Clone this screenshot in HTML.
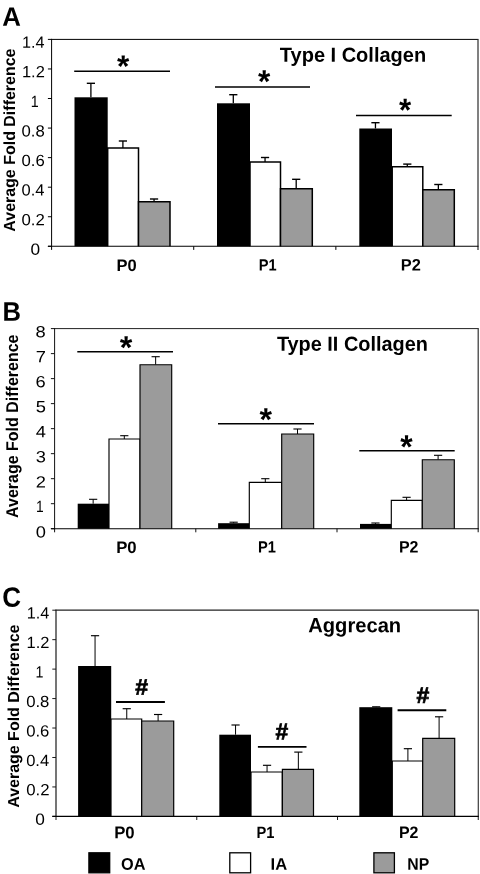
<!DOCTYPE html>
<html lang="en"><head><meta charset="utf-8"><title>Figure</title>
<style>
html,body{margin:0;padding:0;background:#fff;}
svg{display:block;}
text{font-family:"Liberation Sans",Arial,Helvetica,sans-serif;fill:#000;}
.b{font-weight:bold;}
</style></head><body>
<svg width="480" height="874" viewBox="0 0 480 874">
<rect width="480" height="874" fill="#fff"/>
<!-- panel A -->
<text class="b" transform="translate(2.25,25.7) rotate(0.03) scale(0.9683,1)" font-size="26.67">A</text>
<line x1="51.1" y1="39.4" x2="478.5" y2="39.4" stroke="#000" stroke-width="1"/>
<line x1="478" y1="39.4" x2="478" y2="249.9" stroke="#3c3c3c" stroke-width="1.3"/>
<line x1="47.9" y1="246.3" x2="51.6" y2="246.3" stroke="#000" stroke-width="1"/>
<text transform="translate(30.61,254.7) rotate(0.03) scale(1.0656,1)" font-size="16.2">0</text>
<line x1="47.9" y1="216.74" x2="51.6" y2="216.74" stroke="#000" stroke-width="1"/>
<text transform="translate(21.53,225.14) rotate(0.03) scale(1.0351,1)" font-size="16.2">0.2</text>
<line x1="47.9" y1="187.19" x2="51.6" y2="187.19" stroke="#000" stroke-width="1"/>
<text transform="translate(21.54,195.59) rotate(0.03) scale(1.0195,1)" font-size="16.2">0.4</text>
<line x1="47.9" y1="157.63" x2="51.6" y2="157.63" stroke="#000" stroke-width="1"/>
<text transform="translate(21.53,166.03) rotate(0.03) scale(1.0312,1)" font-size="16.2">0.6</text>
<line x1="47.9" y1="128.07" x2="51.6" y2="128.07" stroke="#000" stroke-width="1"/>
<text transform="translate(21.53,136.47) rotate(0.03) scale(1.0312,1)" font-size="16.2">0.8</text>
<line x1="47.9" y1="98.51" x2="51.6" y2="98.51" stroke="#000" stroke-width="1"/>
<text transform="translate(30.77,106.91) rotate(0.03) scale(0.8800,1)" font-size="16.2">1</text>
<line x1="47.9" y1="68.96" x2="51.6" y2="68.96" stroke="#000" stroke-width="1"/>
<text transform="translate(21.97,77.36) rotate(0.03) scale(1.0150,1)" font-size="16.2">1.2</text>
<line x1="47.9" y1="39.4" x2="51.6" y2="39.4" stroke="#000" stroke-width="1"/>
<text transform="translate(21.99,47.8) rotate(0.03) scale(0.9992,1)" font-size="16.2">1.4</text>
<line x1="51.6" y1="246.3" x2="51.6" y2="249.9" stroke="#000" stroke-width="1"/>
<line x1="193.73" y1="246.3" x2="193.73" y2="249.9" stroke="#000" stroke-width="1"/>
<line x1="335.87" y1="246.3" x2="335.87" y2="249.9" stroke="#000" stroke-width="1"/>
<line x1="90.9" y1="83.3" x2="90.9" y2="97.3" stroke="#000" stroke-width="1.3"/>
<line x1="86.8" y1="83.3" x2="95" y2="83.3" stroke="#000" stroke-width="1.4"/>
<rect x="74.5" y="97.3" width="33.2" height="149" fill="#000"/>
<line x1="122.9" y1="141" x2="122.9" y2="148" stroke="#000" stroke-width="1.3"/>
<line x1="118.8" y1="141" x2="127" y2="141" stroke="#000" stroke-width="1.4"/>
<path d="M107.7 246.3V148H138.5V246.3" fill="#fff" stroke="#000" stroke-width="1.5"/>
<line x1="154.05" y1="199" x2="154.05" y2="201.7" stroke="#000" stroke-width="1.3"/>
<line x1="149.95" y1="199" x2="158.15" y2="199" stroke="#000" stroke-width="1.4"/>
<path d="M138.5 246.3V201.7H170V246.3" fill="#9b9b9b" stroke="#000" stroke-width="1.5"/>
<line x1="233.3" y1="94.7" x2="233.3" y2="103.3" stroke="#000" stroke-width="1.3"/>
<line x1="229.2" y1="94.7" x2="237.4" y2="94.7" stroke="#000" stroke-width="1.4"/>
<rect x="217" y="103.3" width="33" height="143" fill="#000"/>
<line x1="265.05" y1="157.5" x2="265.05" y2="162" stroke="#000" stroke-width="1.3"/>
<line x1="260.95" y1="157.5" x2="269.15" y2="157.5" stroke="#000" stroke-width="1.4"/>
<path d="M250 246.3V162H280.5V246.3" fill="#fff" stroke="#000" stroke-width="1.5"/>
<line x1="296.2" y1="179.3" x2="296.2" y2="188.7" stroke="#000" stroke-width="1.3"/>
<line x1="292.1" y1="179.3" x2="300.3" y2="179.3" stroke="#000" stroke-width="1.4"/>
<path d="M280.5 246.3V188.7H312.3V246.3" fill="#9b9b9b" stroke="#000" stroke-width="1.5"/>
<line x1="375.45" y1="122.7" x2="375.45" y2="128.5" stroke="#000" stroke-width="1.3"/>
<line x1="371.35" y1="122.7" x2="379.55" y2="122.7" stroke="#000" stroke-width="1.4"/>
<rect x="359.3" y="128.5" width="32.7" height="117.8" fill="#000"/>
<line x1="407.3" y1="164.1" x2="407.3" y2="166.7" stroke="#000" stroke-width="1.3"/>
<line x1="403.2" y1="164.1" x2="411.4" y2="164.1" stroke="#000" stroke-width="1.4"/>
<path d="M392.2 246.3V166.7H422.8V246.3" fill="#fff" stroke="#000" stroke-width="1.5"/>
<line x1="438.35" y1="184.5" x2="438.35" y2="189.8" stroke="#000" stroke-width="1.3"/>
<line x1="434.25" y1="184.5" x2="442.45" y2="184.5" stroke="#000" stroke-width="1.4"/>
<path d="M422.8 246.3V189.8H454.3V246.3" fill="#9b9b9b" stroke="#000" stroke-width="1.5"/>
<line x1="51.6" y1="38.9" x2="51.6" y2="246.8" stroke="#000" stroke-width="1"/>
<line x1="47.9" y1="246.3" x2="478.5" y2="246.3" stroke="#000" stroke-width="1.1"/>
<line x1="74.2" y1="71.25" x2="170" y2="71.25" stroke="#000" stroke-width="1.5"/>
<text class="b" transform="translate(117.04,76.65) rotate(0.03) scale(1.0160,1)" font-size="31.08">*</text>
<line x1="215" y1="87.1" x2="310" y2="87.1" stroke="#000" stroke-width="1.5"/>
<text class="b" transform="translate(258.04,92.21) rotate(0.03) scale(0.9902,1)" font-size="31.89">*</text>
<line x1="356" y1="115.5" x2="451.7" y2="115.5" stroke="#000" stroke-width="1.5"/>
<text class="b" transform="translate(398.94,120.98) rotate(0.03) scale(0.9656,1)" font-size="32.43">*</text>
<text class="b" transform="translate(279.8,61.7) rotate(0.03) scale(0.9864,1)" font-size="20.29">Type I Collagen</text>
<text class="b" transform="translate(15,231.7) rotate(-89.97) scale(0.9928,1)" font-size="16.1">Average Fold Difference</text>
<text class="b" transform="translate(116.43,270.9) rotate(0.03) scale(0.9911,1)" font-size="16.67">P0</text>
<text class="b" transform="translate(258.8,270.6) rotate(0.03) scale(0.8996,1)" font-size="16.23">P1</text>
<text class="b" transform="translate(400.84,270.6) rotate(0.03) scale(0.9917,1)" font-size="16.52">P2</text>
<!-- panel B -->
<text class="b" transform="translate(2.54,320.8) rotate(0.03) scale(0.9538,1)" font-size="26.81">B</text>
<line x1="54.1" y1="328.6" x2="478.7" y2="328.6" stroke="#222" stroke-width="1"/>
<line x1="478.2" y1="328.6" x2="478.2" y2="532.3" stroke="#333" stroke-width="1.2"/>
<line x1="50.9" y1="528.7" x2="54.6" y2="528.7" stroke="#111" stroke-width="1"/>
<text transform="translate(35.67,537.4) rotate(0.03) scale(1.1300,1)" font-size="16.2">0</text>
<line x1="50.9" y1="503.69" x2="54.6" y2="503.69" stroke="#111" stroke-width="1"/>
<text transform="translate(35.96,512.39) rotate(0.03) scale(0.8500,1)" font-size="16.2">1</text>
<line x1="50.9" y1="478.68" x2="54.6" y2="478.68" stroke="#111" stroke-width="1"/>
<text transform="translate(35.67,487.38) rotate(0.03) scale(1.1300,1)" font-size="16.2">2</text>
<line x1="50.9" y1="453.66" x2="54.6" y2="453.66" stroke="#111" stroke-width="1"/>
<text transform="translate(35.72,462.36) rotate(0.03) scale(1.1300,1)" font-size="16.2">3</text>
<line x1="50.9" y1="428.65" x2="54.6" y2="428.65" stroke="#111" stroke-width="1"/>
<text transform="translate(35.72,437.35) rotate(0.03) scale(1.1300,1)" font-size="16.2">4</text>
<line x1="50.9" y1="403.64" x2="54.6" y2="403.64" stroke="#111" stroke-width="1"/>
<text transform="translate(35.67,412.34) rotate(0.03) scale(1.1300,1)" font-size="16.2">5</text>
<line x1="50.9" y1="378.62" x2="54.6" y2="378.62" stroke="#111" stroke-width="1"/>
<text transform="translate(35.62,387.32) rotate(0.03) scale(1.1300,1)" font-size="16.2">6</text>
<line x1="50.9" y1="353.61" x2="54.6" y2="353.61" stroke="#111" stroke-width="1"/>
<text transform="translate(35.67,362.31) rotate(0.03) scale(1.1300,1)" font-size="16.2">7</text>
<line x1="50.9" y1="328.6" x2="54.6" y2="328.6" stroke="#111" stroke-width="1"/>
<text transform="translate(35.62,337.3) rotate(0.03) scale(1.1300,1)" font-size="16.2">8</text>
<line x1="54.6" y1="528.7" x2="54.6" y2="532.3" stroke="#111" stroke-width="1"/>
<line x1="195.8" y1="528.7" x2="195.8" y2="532.3" stroke="#111" stroke-width="1"/>
<line x1="337" y1="528.7" x2="337" y2="532.3" stroke="#111" stroke-width="1"/>
<line x1="93.15" y1="499.3" x2="93.15" y2="503.7" stroke="#000" stroke-width="1"/>
<line x1="89.05" y1="499.3" x2="97.25" y2="499.3" stroke="#000" stroke-width="1.1"/>
<rect x="77.7" y="503.7" width="31.3" height="25" fill="#000"/>
<line x1="124.3" y1="435.7" x2="124.3" y2="439" stroke="#000" stroke-width="1"/>
<line x1="120.2" y1="435.7" x2="128.4" y2="435.7" stroke="#000" stroke-width="1.1"/>
<path d="M109 528.7V439H140V528.7" fill="#fff" stroke="#000" stroke-width="1.15"/>
<line x1="155.65" y1="356.7" x2="155.65" y2="364.7" stroke="#000" stroke-width="1"/>
<line x1="151.55" y1="356.7" x2="159.75" y2="356.7" stroke="#000" stroke-width="1.1"/>
<path d="M140 528.7V364.7H171.7V528.7" fill="#9b9b9b" stroke="#000" stroke-width="1.15"/>
<line x1="233.65" y1="522.2" x2="233.65" y2="523.2" stroke="#000" stroke-width="1"/>
<line x1="229.55" y1="522.2" x2="237.75" y2="522.2" stroke="#000" stroke-width="1.1"/>
<rect x="218.1" y="523.2" width="31.5" height="5.5" fill="#000"/>
<line x1="265.3" y1="478.7" x2="265.3" y2="482.3" stroke="#000" stroke-width="1"/>
<line x1="261.2" y1="478.7" x2="269.4" y2="478.7" stroke="#000" stroke-width="1.1"/>
<path d="M249.3 528.7V482.3H281.7V528.7" fill="#fff" stroke="#000" stroke-width="1.15"/>
<line x1="297.5" y1="429" x2="297.5" y2="434" stroke="#000" stroke-width="1"/>
<line x1="293.4" y1="429" x2="301.6" y2="429" stroke="#000" stroke-width="1.1"/>
<path d="M281.7 528.7V434H313.7V528.7" fill="#9b9b9b" stroke="#000" stroke-width="1.15"/>
<line x1="375.45" y1="523" x2="375.45" y2="523.9" stroke="#000" stroke-width="1"/>
<line x1="371.35" y1="523" x2="379.55" y2="523" stroke="#000" stroke-width="1.1"/>
<rect x="360" y="523.9" width="31.3" height="4.8" fill="#000"/>
<line x1="406.6" y1="497.3" x2="406.6" y2="500.3" stroke="#000" stroke-width="1"/>
<line x1="402.5" y1="497.3" x2="410.7" y2="497.3" stroke="#000" stroke-width="1.1"/>
<path d="M391.3 528.7V500.3H422.3V528.7" fill="#fff" stroke="#000" stroke-width="1.15"/>
<line x1="438.1" y1="455.3" x2="438.1" y2="459.7" stroke="#000" stroke-width="1"/>
<line x1="434" y1="455.3" x2="442.2" y2="455.3" stroke="#000" stroke-width="1.1"/>
<path d="M422.3 528.7V459.7H454.3V528.7" fill="#9b9b9b" stroke="#000" stroke-width="1.15"/>
<line x1="54.6" y1="328.1" x2="54.6" y2="529.2" stroke="#111" stroke-width="1"/>
<line x1="50.9" y1="528.7" x2="478.7" y2="528.7" stroke="#000" stroke-width="1.1"/>
<line x1="77.3" y1="351.8" x2="173" y2="351.8" stroke="#000" stroke-width="1.5"/>
<text class="b" transform="translate(119.84,358.58) rotate(0.03) scale(0.9980,1)" font-size="32.43">*</text>
<line x1="218" y1="423.7" x2="314" y2="423.7" stroke="#000" stroke-width="1.5"/>
<text class="b" transform="translate(259.44,430.58) rotate(0.03) scale(0.9899,1)" font-size="32.43">*</text>
<line x1="359.3" y1="450.8" x2="454.7" y2="450.8" stroke="#000" stroke-width="1.5"/>
<text class="b" transform="translate(400.34,457.95) rotate(0.03) scale(0.9657,1)" font-size="32.97">*</text>
<text class="b" transform="translate(276.9,350.7) rotate(0.03) scale(0.9805,1)" font-size="20.29">Type II Collagen</text>
<text class="b" transform="translate(18,517.9) rotate(-89.97) scale(0.9408,1)" font-size="17">Average Fold Difference</text>
<text class="b" transform="translate(116.16,552.9) rotate(0.03) scale(1.0045,1)" font-size="16.67">P0</text>
<text class="b" transform="translate(258.05,552.6) rotate(0.03) scale(0.9050,1)" font-size="16.23">P1</text>
<text class="b" transform="translate(398.96,552.6) rotate(0.03) scale(0.9673,1)" font-size="16.52">P2</text>
<!-- panel C -->
<text class="b" transform="translate(2.16,606.75) rotate(0.03) scale(0.9306,1)" font-size="27.97">C</text>
<line x1="55.5" y1="610.2" x2="478.8" y2="610.2" stroke="#222" stroke-width="1.3"/>
<line x1="478.3" y1="610.2" x2="478.3" y2="820" stroke="#3a3a3a" stroke-width="1.2"/>
<line x1="52.3" y1="816.4" x2="56" y2="816.4" stroke="#1a1a1a" stroke-width="1"/>
<text transform="translate(35.26,824.8) rotate(0.03) scale(1.0656,1)" font-size="16.2">0</text>
<line x1="52.3" y1="786.94" x2="56" y2="786.94" stroke="#1a1a1a" stroke-width="1"/>
<text transform="translate(26.18,795.34) rotate(0.03) scale(1.0351,1)" font-size="16.2">0.2</text>
<line x1="52.3" y1="757.49" x2="56" y2="757.49" stroke="#1a1a1a" stroke-width="1"/>
<text transform="translate(26.19,765.89) rotate(0.03) scale(1.0195,1)" font-size="16.2">0.4</text>
<line x1="52.3" y1="728.03" x2="56" y2="728.03" stroke="#1a1a1a" stroke-width="1"/>
<text transform="translate(26.18,736.43) rotate(0.03) scale(1.0312,1)" font-size="16.2">0.6</text>
<line x1="52.3" y1="698.57" x2="56" y2="698.57" stroke="#1a1a1a" stroke-width="1"/>
<text transform="translate(26.18,706.97) rotate(0.03) scale(1.0312,1)" font-size="16.2">0.8</text>
<line x1="52.3" y1="669.11" x2="56" y2="669.11" stroke="#1a1a1a" stroke-width="1"/>
<text transform="translate(35.42,677.51) rotate(0.03) scale(0.8800,1)" font-size="16.2">1</text>
<line x1="52.3" y1="639.66" x2="56" y2="639.66" stroke="#1a1a1a" stroke-width="1"/>
<text transform="translate(26.62,648.06) rotate(0.03) scale(1.0150,1)" font-size="16.2">1.2</text>
<line x1="52.3" y1="610.2" x2="56" y2="610.2" stroke="#1a1a1a" stroke-width="1"/>
<text transform="translate(26.64,618.6) rotate(0.03) scale(0.9992,1)" font-size="16.2">1.4</text>
<line x1="56" y1="816.4" x2="56" y2="820" stroke="#1a1a1a" stroke-width="1"/>
<line x1="196.77" y1="816.4" x2="196.77" y2="820" stroke="#1a1a1a" stroke-width="1"/>
<line x1="337.53" y1="816.4" x2="337.53" y2="820" stroke="#1a1a1a" stroke-width="1"/>
<line x1="95.05" y1="635.7" x2="95.05" y2="666" stroke="#000" stroke-width="1"/>
<line x1="90.95" y1="635.7" x2="99.15" y2="635.7" stroke="#000" stroke-width="1.15"/>
<rect x="78.1" y="666" width="33.1" height="150.4" fill="#000"/>
<line x1="126.75" y1="708.7" x2="126.75" y2="719" stroke="#000" stroke-width="1"/>
<line x1="122.65" y1="708.7" x2="130.85" y2="708.7" stroke="#000" stroke-width="1.15"/>
<path d="M111 816.4V719H141.7V816.4" fill="#fff" stroke="#000" stroke-width="1.2"/>
<line x1="158.1" y1="714.5" x2="158.1" y2="721" stroke="#000" stroke-width="1"/>
<line x1="154" y1="714.5" x2="162.2" y2="714.5" stroke="#000" stroke-width="1.15"/>
<path d="M141.7 816.4V721H173.7V816.4" fill="#9b9b9b" stroke="#000" stroke-width="1.2"/>
<line x1="235.55" y1="725" x2="235.55" y2="734.7" stroke="#000" stroke-width="1"/>
<line x1="231.45" y1="725" x2="239.65" y2="725" stroke="#000" stroke-width="1.15"/>
<rect x="219.3" y="734.7" width="31.7" height="81.7" fill="#000"/>
<line x1="267.05" y1="765.3" x2="267.05" y2="772" stroke="#000" stroke-width="1"/>
<line x1="262.95" y1="765.3" x2="271.15" y2="765.3" stroke="#000" stroke-width="1.15"/>
<path d="M251 816.4V772H282.3V816.4" fill="#fff" stroke="#000" stroke-width="1.2"/>
<line x1="298.35" y1="752.1" x2="298.35" y2="769.4" stroke="#000" stroke-width="1"/>
<line x1="294.25" y1="752.1" x2="302.45" y2="752.1" stroke="#000" stroke-width="1.15"/>
<path d="M282.4 816.4V769.4H313.5V816.4" fill="#9b9b9b" stroke="#000" stroke-width="1.2"/>
<line x1="376.2" y1="706.8" x2="376.2" y2="707.2" stroke="#000" stroke-width="1"/>
<line x1="372.1" y1="706.8" x2="380.3" y2="706.8" stroke="#000" stroke-width="1.15"/>
<rect x="359.3" y="707.2" width="33" height="109.2" fill="#000"/>
<line x1="407.9" y1="748.7" x2="407.9" y2="761" stroke="#000" stroke-width="1"/>
<line x1="403.8" y1="748.7" x2="412" y2="748.7" stroke="#000" stroke-width="1.15"/>
<path d="M392.3 816.4V761H422.7V816.4" fill="#fff" stroke="#000" stroke-width="1.2"/>
<line x1="439.1" y1="716.8" x2="439.1" y2="738.3" stroke="#000" stroke-width="1"/>
<line x1="435" y1="716.8" x2="443.2" y2="716.8" stroke="#000" stroke-width="1.15"/>
<path d="M422.7 816.4V738.3H454.7V816.4" fill="#9b9b9b" stroke="#000" stroke-width="1.2"/>
<line x1="56" y1="609.7" x2="56" y2="816.9" stroke="#1a1a1a" stroke-width="1.2"/>
<line x1="52.3" y1="816.4" x2="478.8" y2="816.4" stroke="#000" stroke-width="1.1"/>
<line x1="116" y1="702" x2="164.9" y2="702" stroke="#000" stroke-width="1.9"/>
<text class="b" transform="translate(135.3,694.65) rotate(0.03) scale(1.0111,1)" font-size="22.79" stroke="#000" stroke-width="0.7">#</text>
<line x1="257.9" y1="746.9" x2="306.5" y2="746.9" stroke="#000" stroke-width="1.9"/>
<text class="b" transform="translate(275.61,739.45) rotate(0.03) scale(0.9837,1)" font-size="23.24" stroke="#000" stroke-width="0.7">#</text>
<line x1="397.6" y1="710.3" x2="446.3" y2="710.3" stroke="#000" stroke-width="1.9"/>
<text class="b" transform="translate(416.4,703.05) rotate(0.03) scale(1.0177,1)" font-size="22.65" stroke="#000" stroke-width="0.7">#</text>
<text class="b" transform="translate(308.25,632.25) rotate(0.03) scale(0.9764,1)" font-size="20.65">Aggrecan</text>
<text class="b" transform="translate(18.9,807.8) rotate(-89.97) scale(1.0053,1)" font-size="15.9">Average Fold Difference</text>
<text class="b" transform="translate(114.16,838.2) rotate(0.03) scale(0.9873,1)" font-size="16.96">P0</text>
<text class="b" transform="translate(256.55,838) rotate(0.03) scale(0.9010,1)" font-size="16.3">P1</text>
<text class="b" transform="translate(398.96,838) rotate(0.03) scale(0.9589,1)" font-size="16.67">P2</text>
<!-- legend -->
<rect x="88.9" y="852.8" width="20.8" height="20" fill="#000" stroke="#000" stroke-width="1.3"/>
<text class="b" transform="translate(121.05,869.8) rotate(0.03) scale(0.9692,1)" font-size="16.81">OA</text>
<rect x="229.8" y="852.8" width="20.8" height="20" fill="#fff" stroke="#000" stroke-width="1.3"/>
<text class="b" transform="translate(270.62,869.8) rotate(0.03) scale(0.9859,1)" font-size="16.81">IA</text>
<rect x="373.9" y="852.8" width="20.5" height="20" fill="#9b9b9b" stroke="#000" stroke-width="1.3"/>
<text class="b" transform="translate(407.27,869.8) rotate(0.03) scale(0.9407,1)" font-size="16.81">NP</text>
</svg>
</body></html>
